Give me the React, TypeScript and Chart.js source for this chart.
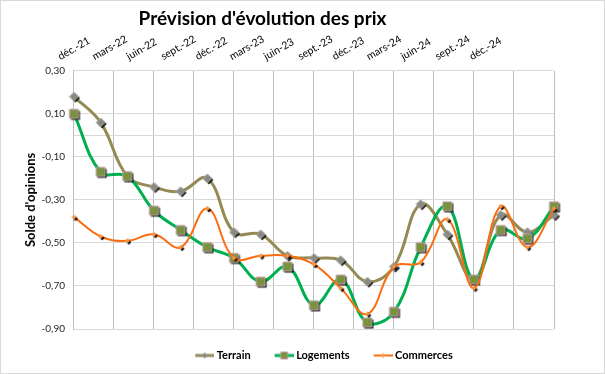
import React, { useEffect, useRef } from 'react';
import { Chart, registerables } from 'chart.js';

Chart.register(...registerables);

// Bimonthly survey periods (one point every two months)
const periods = [
  'déc.-21', 'févr.-22', 'avr.-22', 'juin-22', 'août-22', 'oct.-22',
  'déc.-22', 'févr.-23', 'avr.-23', 'juin-23', 'août-23', 'oct.-23',
  'déc.-23', 'févr.-24', 'avr.-24', 'juin-24', 'août-24', 'oct.-24', 'déc.-24',
];

// Quarterly axis labels shown on top
const quarterLabels = [
  'déc.-21', 'mars-22', 'juin-22', 'sept.-22', 'déc.-22', 'mars-23', 'juin-23',
  'sept.-23', 'déc.-23', 'mars-24', 'juin-24', 'sept.-24', 'déc.-24',
];

const terrain = [0.18, 0.06, -0.19, -0.24, -0.26, -0.2, -0.45, -0.46, -0.56, -0.57, -0.58, -0.68, -0.61, -0.32, -0.46, -0.67, -0.37, -0.45, -0.37];
const logements = [0.1, -0.17, -0.19, -0.35, -0.44, -0.52, -0.57, -0.68, -0.61, -0.79, -0.67, -0.87, -0.82, -0.52, -0.33, -0.67, -0.44, -0.48, -0.33];
const commerces = [-0.38, -0.47, -0.49, -0.46, -0.52, -0.34, -0.57, -0.56, -0.56, -0.6, -0.71, -0.83, -0.61, -0.59, -0.39, -0.71, -0.33, -0.52, -0.34];

const yTicks = [0.3, 0.1, -0.1, -0.3, -0.5, -0.7, -0.9];

const FONT = 'Lato, "Open Sans", sans-serif';

type Kind = 'diamond' | 'square';

function makeMarker(kind: Kind, r: number, fill: string, stroke: string | null, shadow: boolean) {
  const pad = 3;
  const size = Math.ceil(r * 2 + pad * 2);
  const c = document.createElement('canvas');
  c.width = size;
  c.height = size;
  const ctx = c.getContext('2d')!;
  const cx = size / 2;
  const cy = size / 2;
  const path = () => {
    ctx.beginPath();
    if (kind === 'diamond') {
      ctx.moveTo(cx, cy - r);
      ctx.lineTo(cx + r, cy);
      ctx.lineTo(cx, cy + r);
      ctx.lineTo(cx - r, cy);
      ctx.closePath();
    } else {
      ctx.rect(cx - r, cy - r, 2 * r, 2 * r);
    }
  };
  if (shadow) {
    ctx.save();
    ctx.translate(1.5, 1.5);
    path();
    ctx.fillStyle = 'rgba(0,0,0,0.9)';
    ctx.fill();
    ctx.restore();
  }
  path();
  ctx.fillStyle = fill;
  ctx.fill();
  if (stroke) {
    ctx.lineWidth = 1;
    ctx.strokeStyle = stroke;
    ctx.stroke();
  }
  return c;
}

// Legend icon: transparent left part, then a short line with a marker in the middle
function makeLegendIcon(kind: Kind, r: number, line: string, lw: number, fill: string, stroke: string | null) {
  const c = document.createElement('canvas');
  c.width = 25;
  c.height = 10;
  const ctx = c.getContext('2d')!;
  const x0 = 6;
  const x1 = 25;
  const mx = (x0 + x1) / 2;
  ctx.strokeStyle = line;
  ctx.lineWidth = lw;
  ctx.beginPath();
  ctx.moveTo(x0, 5);
  ctx.lineTo(x1, 5);
  ctx.stroke();
  ctx.beginPath();
  if (kind === 'diamond') {
    ctx.moveTo(mx, 5 - r);
    ctx.lineTo(mx + r, 5);
    ctx.lineTo(mx, 5 + r);
    ctx.lineTo(mx - r, 5);
    ctx.closePath();
  } else {
    ctx.rect(mx - r, 5 - r, 2 * r, 2 * r);
  }
  ctx.fillStyle = fill;
  ctx.fill();
  if (stroke) {
    ctx.lineWidth = 1;
    ctx.strokeStyle = stroke;
    ctx.stroke();
  }
  return c;
}

// Horizontal shift of the title and legend blocks (Excel places them off-centre)
const TITLE_SHIFT = -26;
const LEGEND_SHIFT = 34;
const LABEL_AXIS_HEIGHT = 37;

const blockShift = {
  id: 'blockShift',
  afterLayout(chart: any) {
    const t = chart.titleBlock;
    if (t) {
      t.left += TITLE_SHIFT;
      t.right += TITLE_SHIFT;
    }
    const l = chart.legend;
    if (l) {
      l.left += LEGEND_SHIFT;
      l.right += LEGEND_SHIFT;
    }
  },
};

export default function App() {
  const ref = useRef<HTMLCanvasElement>(null);

  useEffect(() => {
    if (!ref.current) return;
    const terrainLine = '#948a54';
    const logLine = '#00b050';
    const comLine = '#fb6d10';

    const mTerrain = makeMarker('diamond', 4.5, '#8a8a84', '#a9a9a0', true);
    const mLog = makeMarker('square', 4.5, '#77933c', '#c49bb0', true);
    const mCom = makeMarker('diamond', 2.5, '#f79646', null, true);

    const icons = [
      makeLegendIcon('diamond', 3, terrainLine, 3, '#8a8a84', null),
      makeLegendIcon('square', 3.5, logLine, 3, '#77933c', '#c49bb0'),
      makeLegendIcon('diamond', 2.5, comLine, 2, '#f79646', null),
    ];

    const chart = new Chart(ref.current, {
      type: 'line',
      data: {
        labels: periods,
        datasets: [
          {
            label: 'Terrain',
            data: terrain,
            borderColor: terrainLine,
            backgroundColor: terrainLine,
            borderWidth: 3,
            pointStyle: mTerrain as any,
            tension: 0.4,
            order: 3,
          },
          {
            label: 'Logements',
            data: logements,
            borderColor: logLine,
            backgroundColor: logLine,
            borderWidth: 3,
            pointStyle: mLog as any,
            tension: 0.4,
            order: 2,
          },
          {
            label: 'Commerces',
            data: commerces,
            borderColor: comLine,
            backgroundColor: comLine,
            borderWidth: 2,
            pointStyle: mCom as any,
            tension: 0.4,
            order: 1,
          },
        ],
      },
      options: {
        responsive: false,
        animation: false,
        events: [],
        layout: { padding: { left: 22, right: 50, top: 0, bottom: 2 } },
        scales: {
          x: {
            type: 'category',
            display: false,
            offset: false,
          },
          grid: {
            type: 'linear',
            position: 'top',
            min: 0,
            max: 12,
            weight: 0,
            ticks: { display: false, stepSize: 1 },
            grid: { color: '#bfbfbf', drawTicks: false, lineWidth: 1 },
            border: { display: false },
          },
          lab: {
            type: 'category',
            position: 'top',
            labels: [...quarterLabels, ''],
            offset: true,
            weight: 1,
            grid: { display: false, drawTicks: false },
            border: { display: false },
            afterFit: (scale: any) => {
              scale.height = LABEL_AXIS_HEIGHT;
            },
            ticks: {
              autoSkip: false,
              minRotation: 30,
              maxRotation: 30,
              labelOffset: -26,
              padding: 8,
              color: '#000000',
              font: { family: FONT, size: 10.5 },
            },
          },
          y: {
            type: 'linear',
            min: -0.9,
            max: 0.3,
            afterBuildTicks: (scale: any) => {
              const t = yTicks.map((v) => ({ value: v }));
              t.push({ value: 0 });
              scale.ticks = t.sort((a, b) => a.value - b.value);
            },
            ticks: {
              autoSkip: false,
              padding: 9,
              color: '#262626',
              font: { family: FONT, size: 10 },
              callback: (v: any) => (Math.abs(Number(v)) < 1e-9 ? '' : Number(v).toFixed(2).replace('.', ',')),
            },
            grid: { color: '#d9d9d9', drawTicks: false },
            border: { display: true, color: '#bfbfbf' },
            title: {
              display: true,
              text: "Solde d'opinions",
              color: '#000000',
              font: { family: FONT, size: 13, weight: 'bold' },
              padding: { top: 0, bottom: -6 },
            },
          },
        },
        plugins: {
          title: {
            display: true,
            text: "Prévision d'évolution des prix",
            color: '#000000',
            font: { family: FONT, size: 19, weight: 'bold' },
            padding: { top: 6, bottom: 4 },
          },
          legend: {
            display: true,
            position: 'bottom',
            labels: {
              usePointStyle: true,
              pointStyleWidth: 19,
              padding: 21,
              color: '#000000',
              font: { family: FONT, size: 11, weight: 'bold' },
              sort: (a: any, b: any) => a.datasetIndex - b.datasetIndex,
              generateLabels: (c: any) => {
                const items = Chart.defaults.plugins.legend.labels.generateLabels(c);
                return items.map((it: any) => ({ ...it, pointStyle: icons[it.datasetIndex] }));
              },
            },
          },
          tooltip: { enabled: false },
        },
      } as any,
      plugins: [blockShift],
    });
    return () => chart.destroy();
  }, []);

  return (
    <div
      style={{
        position: 'absolute',
        left: 0,
        top: 0,
        width: 605,
        height: 374,
        boxSizing: 'border-box',
        border: '1px solid #d9d9d9',
        background: '#ffffff',
      }}
    >
      <canvas ref={ref} width={603} height={372} style={{ display: 'block', width: 603, height: 372 }} />
    </div>
  );
}
